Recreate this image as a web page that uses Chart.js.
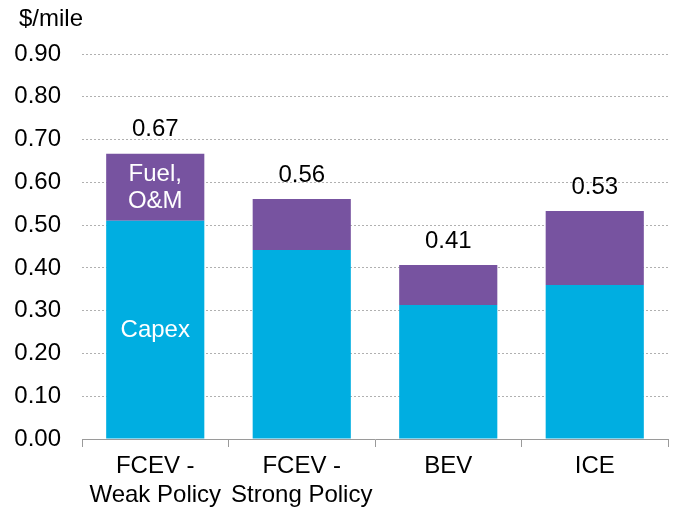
<!DOCTYPE html>
<html>
<head>
<meta charset="utf-8">
<script src="https://cdn.jsdelivr.net/npm/chart.js@4/dist/chart.umd.min.js"></script>
<style>
  html, body { margin: 0; padding: 0; background: #fff; }
  #wrap { width: 675px; height: 508px; }
</style>
</head>
<body>
<div id="wrap"><canvas id="c" width="675" height="508"></canvas></div>
<script>
const categories = [["FCEV -", "Weak Policy"], ["FCEV -", "Strong Policy"], "BEV", "ICE"];
const capex = [0.51, 0.442, 0.313, 0.36];
const fuelOM = [0.157, 0.119, 0.094, 0.173];
const totalLabels = ["0.67", "0.56", "0.41", "0.53"];
const yTicks = [0, 0.1, 0.2, 0.3, 0.4, 0.5, 0.6, 0.7, 0.8, 0.9];
const unitLabel = "$/mile";

const FONT = "'Liberation Sans', Arial, sans-serif";
const FS = 24;

const labelPlugin = {
  id: 'labels',
  afterDatasetsDraw(chart) {
    const ctx = chart.ctx;
    ctx.save();
    ctx.font = FS + 'px ' + FONT;
    ctx.textAlign = 'center';
    ctx.textBaseline = 'middle';
    const m0 = chart.getDatasetMeta(0);
    const m1 = chart.getDatasetMeta(1);
    ctx.fillStyle = '#000';
    m1.data.forEach((el, i) => {
      ctx.fillText(totalLabels[i], el.x, el.y - 24);
    });
    ctx.fillStyle = '#fff';
    const f = m1.data[0];
    const fc = (f.y + f.base) / 2;
    ctx.fillText('Fuel,', f.x, fc - 13);
    ctx.fillText('O&M', f.x, fc + 14);
    const c = m0.data[0];
    ctx.fillText('Capex', c.x, (c.y + c.base) / 2 + 1);
    ctx.fillStyle = '#000';
    ctx.textAlign = 'left';
    ctx.fillText(unitLabel, 19, 19);
    ctx.restore();
  }
};

new Chart(document.getElementById('c'), {
  type: 'bar',
  data: {
    labels: categories,
    datasets: [
      { label: 'Capex', data: capex, backgroundColor: '#00AEE1', borderWidth: 0 },
      { label: 'Fuel, O&M', data: fuelOM, backgroundColor: '#7753A0', borderWidth: 0 }
    ]
  },
  options: {
    responsive: false,
    animation: false,
    layout: { padding: { top: 54, right: 7, left: 0, bottom: 0 } },
    plugins: { legend: { display: false }, tooltip: { enabled: false } },
    datasets: { bar: { categoryPercentage: 1, barPercentage: 0.67 } },
    scales: {
      x: {
        stacked: true,
        afterFit(scale) { scale.height = 69; },
        border: { display: true, color: '#9a9a9a', width: 1 },
        grid: { display: true, drawOnChartArea: false, drawTicks: true, tickLength: 8, color: '#9a9a9a', offset: true },
        ticks: { color: '#000', font: { family: FONT, size: FS, lineHeight: 1.2 }, padding: 5, maxRotation: 0, autoSkip: false }
      },
      y: {
        stacked: true,
        min: 0, max: 0.9,
        afterBuildTicks(scale) { scale.ticks = yTicks.map(v => ({ value: v })); },
        afterFit(scale) { scale.width = 82; },
        border: { display: false, dash: [2, 2] },
        grid: {
          drawTicks: false,
          color: (ctx) => ctx.tick && ctx.tick.value === 0 ? 'rgba(0,0,0,0)' : '#b0b0b0',
          lineWidth: 1
        },
        ticks: {
          color: '#000', padding: 21,
          font: { family: FONT, size: FS },
          callback: (v) => Number(v).toFixed(2)
        }
      }
    }
  },
  plugins: [labelPlugin]
});
</script>
</body>
</html>
